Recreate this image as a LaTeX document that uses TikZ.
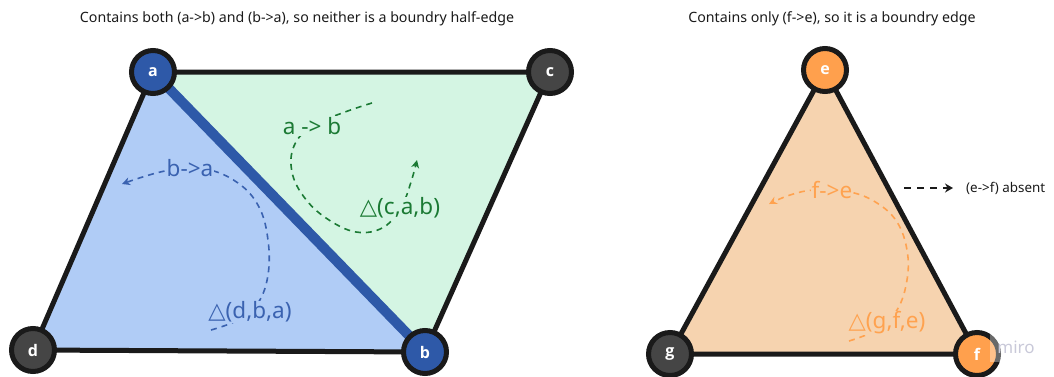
\documentclass[tikz,border=0pt]{standalone}
\usepackage{fontspec}
\setmainfont{Noto Sans}
\newfontfamily\symf{DejaVu Sans}
\newfontfamily\vfont{Open Sans}
\usetikzlibrary{backgrounds,arrows.meta}
\definecolor{edgek}{HTML}{1A1A1A}
\definecolor{vblue}{HTML}{2E59A8}
\definecolor{vgrey}{HTML}{454545}
\definecolor{vorange}{HTML}{FFA04D}
\definecolor{fblue}{HTML}{B0CCF6}
\definecolor{fgreen}{HTML}{D4F5E3}
\definecolor{fpeach}{HTML}{F6D3AF}
\definecolor{tgreen}{HTML}{1B7A34}
\definecolor{tblue}{HTML}{3A62B0}
\definecolor{torange}{HTML}{FFA24F}
\definecolor{wm}{HTML}{C9C9D9}
\newcommand{\tri}{{\symf\char"25B3}}
\begin{document}
\begin{tikzpicture}[x=1pt,y=-1pt,
 vtx/.style={circle, draw=edgek, line width=5pt, minimum size=43pt, inner sep=0pt, text=white, font=\vfont\fontsize{16}{16}\selectfont\bfseries},
 edge/.style={draw=edgek, line width=5pt, line join=round},
 lbl/.style={font=\fontsize{22.5}{22}\selectfont, inner sep=1pt},
 half/.style={dash pattern=on 6pt off 5pt, line width=1.6pt, -{Stealth[length=8pt,width=8pt]}},
 ttl/.style={font=\fontsize{14.2}{16}\selectfont, text=edgek}
]
\useasboundingbox (0,0) rectangle (1054,376);

% titles
\node[ttl] (t1) at (297,19) {Contains both (a->b) and (b->a), so neither is a boundry half-edge};
\node[ttl] (t2) at (832,19) {Contains only (f->e), so it is a boundry edge};

% vertices
\node[vtx, fill=vblue] (a) at (153,72) {a};
\node[vtx, fill=vgrey] (c) at (550,72) {c};
\node[vtx, fill=vgrey] (d) at (33,350) {d};
\node[vtx, fill=vblue] (b) at (425,352) {b};
\node[vtx, fill=vorange] (e) at (825,70) {e};
\node[vtx, fill=vgrey] (g) at (670,354) {g};
\node[vtx, fill=vorange] (f) at (977,354) {f};

\begin{pgfonlayer}{background}
 \fill[fblue] (a.center) -- (d.center) -- (b.center) -- cycle;
 \fill[fgreen] (a.center) -- (c.center) -- (b.center) -- cycle;
 \fill[fpeach] (e.center) -- (g.center) -- (f.center) -- cycle;
 \draw[edge] (a.center) -- (c.center) -- (b.center);
 \draw[edge] (a.center) -- (d.center) -- (b.center);
 \draw[edge] (e.center) -- (g.center) -- (f.center) -- cycle;
 \draw[vblue, line width=10pt] (a.center) -- (b.center);
 % half-edge arcs
 \draw[half, tgreen] plot[smooth, tension=0.65] coordinates {(372,103) (345,112) (312,126) (294,146) (292,172) (304,197) (326,218) (356,232) (384,227) (402,205) (411,182) (417,160)};
 \draw[half, tblue] plot[smooth, tension=0.65] coordinates {(211,330) (238,320) (258,303) (268,275) (268,240) (259,207) (238,183) (205,169) (165,171) (122,184)};
 \draw[half, torange] plot[smooth, tension=0.65] coordinates {(849,341) (876,330) (897,310) (907,280) (907,250) (897,222) (877,203) (850,192) (815,190) (790,195) (769,204)};
\end{pgfonlayer}

% labels
\node[lbl, text=tgreen, fill=fgreen] (lab) at (312,126) {a -> b};
\node[lbl, text=tgreen, fill=fgreen] (tcab) at (400,208) {\tri(c,a,b)};
\node[lbl, text=tblue, fill=fblue] (lba) at (190,168) {b->a};
\node[lbl, text=tblue, fill=fblue] (tdba) at (250,312) {\tri(d,b,a)};
\node[lbl, text=torange, fill=fpeach] (lfe) at (832,190) {f->e};
\node[lbl, text=torange, fill=fpeach] (tgfe) at (887,323) {\tri(g,f,e)};

% absent edge note
\node[font=\fontsize{13.4}{15}\selectfont, text=edgek, anchor=west, inner sep=0pt] (abs) at (966,188) {(e->f) absent};
\coordinate (abs0) at (904,188);
\draw[edgek, dash pattern=on 7pt off 6pt, line width=2pt, -{Stealth[length=8pt,width=9pt]}, shorten >=13pt] (abs0) -- (abs.west);

% watermark
\node[font=\fontsize{17}{17}\selectfont, text=wm, fill=white, fill opacity=0.35, text opacity=1, minimum width=52pt, minimum height=30pt] (miro) at (1016,347) {miro};
\end{tikzpicture}
\end{document}
